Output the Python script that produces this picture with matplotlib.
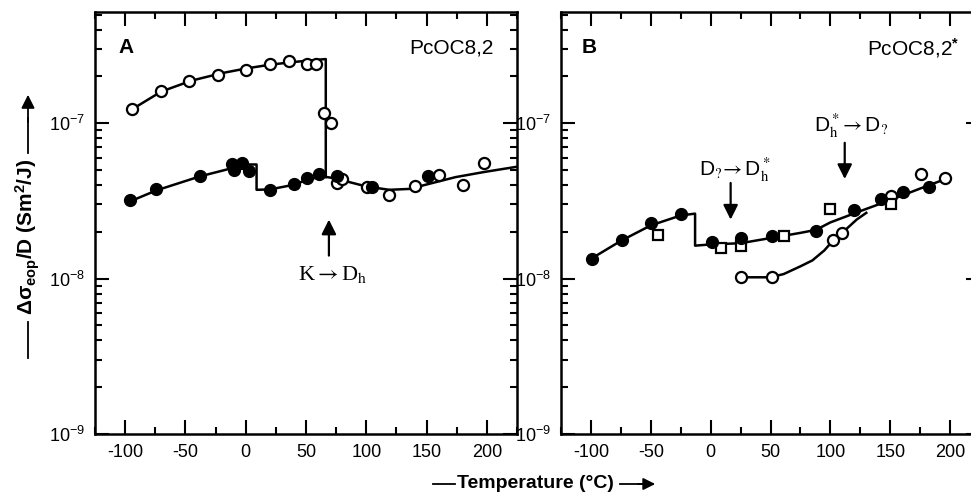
import matplotlib
matplotlib.use("Agg")
import matplotlib.pyplot as plt
import numpy as np

plt.rcParams['font.family'] = ['Liberation Sans', 'DejaVu Sans']
plt.rcParams['axes.unicode_minus'] = False
plt.rcParams['mathtext.fontset'] = 'custom'
plt.rcParams['mathtext.rm'] = 'Liberation Sans'
plt.rcParams['mathtext.it'] = 'Liberation Sans:italic'
plt.rcParams['mathtext.bf'] = 'Liberation Sans:bold'

# ---------------- Panel A data ----------------
a_up_x = [-94, -70, -47, -23, 0, 20, 36, 51, 58, 65, 71]
a_up_y = [1.23e-7, 1.62e-7, 1.86e-7, 2.05e-7, 2.20e-7, 2.42e-7, 2.52e-7, 2.40e-7, 2.40e-7, 1.16e-7, 1.01e-7]

a_fill_x = [-96, -74, -38, -11, -10, -3, 3, 20, 40, 51, 61, 76, 105, 151]
a_fill_y = [3.22e-8, 3.77e-8, 4.57e-8, 5.43e-8, 4.97e-8, 5.55e-8, 4.90e-8, 3.73e-8, 4.04e-8, 4.47e-8, 4.73e-8, 4.55e-8, 3.88e-8, 4.59e-8]

a_open_x = [76, 80, 101, 119, 140, 160, 180, 198]
a_open_y = [4.12e-8, 4.37e-8, 3.88e-8, 3.47e-8, 3.93e-8, 4.63e-8, 3.98e-8, 5.55e-8]

a_fit_up_x = [-95, -70, -45, -20, 0, 20, 40, 66.4, 66.4]
a_fit_up_y = [1.22e-7, 1.60e-7, 1.88e-7, 2.10e-7, 2.25e-7, 2.38e-7, 2.48e-7, 2.59e-7, 4.5e-8]

a_fit_lo_x = [-96, -74, -38, -13, -5, 9, 9, 20, 40, 50, 60, 66, 76, 86, 100, 119, 140, 147, 174, 198, 225]
a_fit_lo_y = [3.14e-8, 3.70e-8, 4.55e-8, 5.10e-8, 5.42e-8, 5.43e-8, 3.73e-8, 3.75e-8, 4.02e-8, 4.30e-8, 4.50e-8, 4.52e-8, 4.40e-8, 4.18e-8, 3.92e-8, 3.73e-8, 3.79e-8, 3.98e-8, 4.50e-8, 4.86e-8, 5.25e-8]

# ---------------- Panel B data ----------------
b_fill_x = [-99, -74, -50, -25, 1, 25, 51, 88, 120, 142, 161, 182]
b_fill_y = [1.34e-8, 1.78e-8, 2.27e-8, 2.59e-8, 1.71e-8, 1.83e-8, 1.87e-8, 2.04e-8, 2.75e-8, 3.27e-8, 3.60e-8, 3.88e-8]

b_sq_x = [-44, 9, 25, 61, 100, 151]
b_sq_y = [1.92e-8, 1.58e-8, 1.63e-8, 1.87e-8, 2.82e-8, 3.03e-8]

b_open_x = [25, 51, 102, 110, 151, 176, 196]
b_open_y = [1.02e-8, 1.02e-8, 1.78e-8, 1.96e-8, 3.42e-8, 4.73e-8, 4.43e-8]

b_fit1_x = [-100, -75, -50, -25, -13, -13, 0, 25, 51, 75, 88, 100, 125, 150, 175, 197]
b_fit1_y = [1.34e-8, 1.75e-8, 2.20e-8, 2.55e-8, 2.62e-8, 1.63e-8, 1.66e-8, 1.69e-8, 1.83e-8, 1.97e-8, 2.06e-8, 2.30e-8, 2.72e-8, 3.20e-8, 3.80e-8, 4.40e-8]

b_fit2_x = [25, 50, 61, 75, 85, 95, 102, 112, 122, 130]
b_fit2_y = [1.02e-8, 1.02e-8, 1.07e-8, 1.20e-8, 1.31e-8, 1.52e-8, 1.75e-8, 2.04e-8, 2.40e-8, 2.65e-8]

xticks = [-100, -50, 0, 50, 100, 150, 200]
yticks = [1e-9, 1e-8, 1e-7]
ytick_labels = [r'$\mathregular{10^{-9}}$', r'$\mathregular{10^{-8}}$', r'$\mathregular{10^{-7}}$']

W, H = 971, 496
fig = plt.figure(figsize=(W / 100, H / 100), dpi=100)
axA = fig.add_axes([95 / W, 62 / H, (517 - 95) / W, (434 - 12) / H])
axB = fig.add_axes([561 / W, 62 / H, (980 - 561) / W, (434 - 12) / H])

for ax in (axA, axB):
    ax.set_yscale('log')
    ax.set_xlim(-125, 225)
    ax.set_ylim(1e-9, 5.2e-7)
    ax.set_xticks(xticks)
    ax.set_xticklabels([str(t) for t in xticks])
    ax.set_xticks(np.arange(-125, 226, 25), minor=True)
    ax.set_yticks(yticks)
    ax.set_yticklabels(ytick_labels)
    ax.yaxis.set_minor_locator(matplotlib.ticker.LogLocator(base=10, subs=np.arange(2, 10)))
    ax.yaxis.set_minor_formatter(matplotlib.ticker.NullFormatter())
    ax.tick_params(which='both', direction='in', top=True, right=True, width=1.5, labelsize=13)
    ax.tick_params(which='major', length=10, pad=7)
    ax.tick_params(which='minor', length=5)
    for s in ax.spines.values():
        s.set_linewidth(1.8)

lw = 1.8
arrow_kw = dict(arrowstyle='-|>', color='black', lw=1.6, mutation_scale=22)

# Panel A
axA.plot(a_fit_up_x, a_fit_up_y, color='black', lw=lw)
axA.plot(a_fit_lo_x, a_fit_lo_y, color='black', lw=lw)
axA.plot(a_up_x, a_up_y, 'o', ms=8, mfc='white', mec='black', mew=1.6)
axA.plot(a_open_x, a_open_y, 'o', ms=8, mfc='white', mec='black', mew=1.6)
axA.plot(a_fill_x, a_fill_y, 'o', ms=8.5, mfc='black', mec='black')
axA.text(0.055, 0.915, 'A', transform=axA.transAxes, fontsize=15, fontweight='bold', va='center')
axA.text(0.945, 0.915, 'PcOC8,2', transform=axA.transAxes, fontsize=15, ha='right', va='center')
axA.annotate('', xy=(69, 2.5e-8), xytext=(69, 1.35e-8), arrowprops=arrow_kw)
axA.text(72, 1.07e-8, r'K$\rightarrow$D$_\mathrm{h}$', fontsize=16, family='Liberation Serif', ha='center',
         va='center', math_fontfamily='stix')

# Panel B
axB.plot(b_fit1_x, b_fit1_y, color='black', lw=lw)
axB.plot(b_fit2_x, b_fit2_y, color='black', lw=lw)
axB.plot(b_open_x, b_open_y, 'o', ms=8, mfc='white', mec='black', mew=1.6)
axB.plot(b_sq_x, b_sq_y, 's', ms=7, mfc='white', mec='black', mew=1.6)
axB.plot(b_fill_x, b_fill_y, 'o', ms=8.5, mfc='black', mec='black')
axB.text(0.05, 0.915, 'B', transform=axB.transAxes, fontsize=15, fontweight='bold', va='center')
axB.text(0.952, 0.915, 'PcOC8,2$^{\\mathbf{*}}$', transform=axB.transAxes, fontsize=15, ha='right', va='center')
axB.annotate('', xy=(16.7, 2.3e-8), xytext=(16.7, 4.3e-8), arrowprops=arrow_kw)
axB.text(20, 4.95e-8, r'D$_?\!\rightarrow$D$_\mathrm{h}^*$', fontsize=15, ha='center', va='center',
         math_fontfamily='stix')
axB.annotate('', xy=(112, 4.2e-8), xytext=(112, 7.8e-8), arrowprops=arrow_kw)
axB.text(117, 9.6e-8, r'D$_\mathrm{h}^*\!\rightarrow$D$_?$', fontsize=15, ha='center', va='center',
         math_fontfamily='stix')

# Axis labels with leading dashes and trailing arrows
fig.text(28 / W, 1 - 237 / H, '\u0394\u03c3$_{\\mathbf{eop}}$/D (Sm$^{\\mathbf{2}}$/J)', rotation=90,
         fontsize=15, fontweight='bold', ha='center', va='center')
fig.add_artist(plt.Line2D([28 / W, 28 / W], [1 - 358 / H, 1 - 322 / H], color='black', lw=1.3,
                          transform=fig.transFigure))
fig.add_artist(plt.Line2D([28 / W, 28 / W], [1 - 153 / H, 1 - 118 / H], color='black', lw=1.3,
                          transform=fig.transFigure))
fig.add_artist(matplotlib.patches.FancyArrowPatch((28 / W, 1 - 125 / H), (28 / W, 1 - 92 / H),
               transform=fig.transFigure, arrowstyle='-|>', mutation_scale=20, color='black', lw=1.3))

fig.text(535 / W, 1 - 484 / H, 'Temperature (\u00b0C)', fontsize=14, fontweight='bold', ha='center', va='center')
fig.add_artist(plt.Line2D([433 / W, 455 / W], [1 - 484 / H, 1 - 484 / H], color='black', lw=1.3,
                          transform=fig.transFigure))
fig.add_artist(plt.Line2D([620 / W, 645 / W], [1 - 484 / H, 1 - 484 / H], color='black', lw=1.3,
                          transform=fig.transFigure))
fig.add_artist(matplotlib.patches.FancyArrowPatch((635 / W, 1 - 484 / H), (658 / W, 1 - 484 / H),
               transform=fig.transFigure, arrowstyle='-|>', mutation_scale=18, color='black', lw=1.3))

fig.savefig('out.png', dpi=100)
